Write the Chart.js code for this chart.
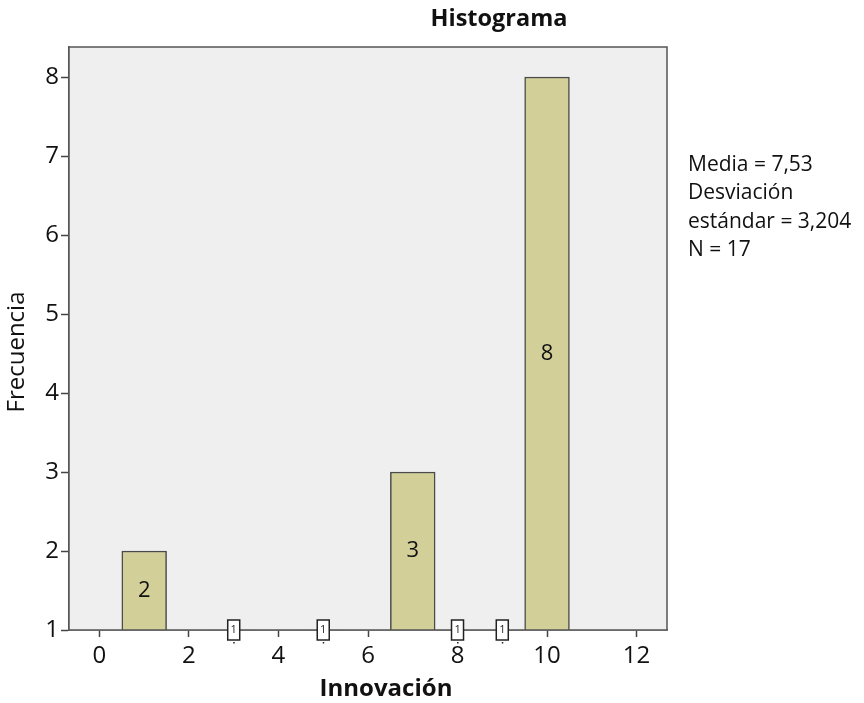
<!DOCTYPE html>
<html lang="es">
<head>
  <meta charset="UTF-8" />
  <title>Histograma - Innovación</title>
  <script src="https://cdn.jsdelivr.net/npm/chart.js"></script>
  <style>
    html, body { margin:0; padding:0; background:#fff; }
    canvas { display:block; }
  </style>
</head>
<body>
  <canvas id="histChart" width="864" height="703"></canvas>

  <script>
    // values
    const innovacion = [1, 3, 5, 7, 8, 9, 10];
    const frecuencia = [2, 1, 1, 3, 1, 1, 8];
    const xTicks = [0, 2, 4, 6, 8, 10, 12];
    const yTicks = [1, 2, 3, 4, 5, 6, 7, 8];
    const statsLines = ["Media = 7,53", "Desviación", "estándar = 3,204", "N = 17"];

    const FONT = "'Open Sans', 'Noto Sans', sans-serif";
    const Y_MIN = 1;

    // plot background, frame, labels, titles, stats box
    const spssLook = {
      id: 'spssLook',
      beforeDatasetsDraw(chart) {
        const { ctx, chartArea: a } = chart;
        ctx.save();
        ctx.fillStyle = '#efefef';
        ctx.fillRect(a.left, a.top, a.right - a.left, a.bottom - a.top);
        ctx.restore();
      },
      afterDatasetsDraw(chart) {
        const { ctx, chartArea: a } = chart;
        const yScale = chart.scales.y;
        const base = yScale.getPixelForValue(Y_MIN);
        ctx.save();
        ctx.strokeStyle = '#555';
        ctx.lineWidth = 1.5;
        ctx.strokeRect(a.left, a.top, a.right - a.left, a.bottom - a.top);

        const meta = chart.getDatasetMeta(0);
        meta.data.forEach((bar, i) => {
          const v = frecuencia[i];
          if (v > Y_MIN) {
            ctx.fillStyle = '#111';
            ctx.font = '22px ' + FONT;
            ctx.textAlign = 'center';
            ctx.textBaseline = 'middle';
            ctx.fillText(String(v), bar.x, (bar.y + base) / 2);
          } else {
            // SPSS puts a tiny label box on zero-height bars
            ctx.fillStyle = '#fff';
            ctx.strokeStyle = '#222';
            ctx.lineWidth = 1.5;
            ctx.fillRect(bar.x - 6, base - 10, 12, 20);
            ctx.strokeRect(bar.x - 6, base - 10, 12, 20);
            ctx.fillStyle = '#222';
            ctx.font = '11px ' + FONT;
            ctx.textAlign = 'center';
            ctx.textBaseline = 'middle';
            ctx.fillText(String(v), bar.x, base);
            ctx.fillRect(bar.x - 0.5, base + 12, 1.5, 1.5);
          }
        });

        ctx.fillStyle = '#111';
        ctx.textAlign = 'center';
        ctx.textBaseline = 'middle';
        ctx.font = 'bold 23.5px ' + FONT;
        ctx.fillText('Histograma', 499, 19);
        ctx.font = 'bold 24px ' + FONT;
        ctx.fillText('Innovación', 386, 689);

        ctx.save();
        ctx.translate(17, 352);
        ctx.rotate(-Math.PI / 2);
        ctx.font = '24px ' + FONT;
        ctx.fillText('Frecuencia', 0, 0);
        ctx.restore();

        ctx.textAlign = 'left';
        ctx.textBaseline = 'alphabetic';
        ctx.font = '21px ' + FONT;
        statsLines.forEach((t, i) => ctx.fillText(t, 688, 171 + i * 28.3));
        ctx.restore();
      }
    };

    new Chart(document.getElementById('histChart'), {
      type: 'bar',
      data: {
        datasets: [{
          data: innovacion.map((x, i) => ({ x: x, y: frecuencia[i] })),
          backgroundColor: '#d3cf98',
          borderColor: '#4a4a4a',
          borderWidth: 1.5,
          borderSkipped: false,
          barPercentage: 1,
          categoryPercentage: 1
        }]
      },
      options: {
        responsive: false,
        animation: false,
        devicePixelRatio: 1,
        layout: { padding: { top: 47, right: 197, left: 0, bottom: 0 } },
        plugins: { legend: { display: false }, tooltip: { enabled: false }, title: { display: false } },
        scales: {
          x: {
            type: 'linear',
            min: -0.68,
            max: 12.68,
            offset: false,
            afterBuildTicks(scale) { scale.ticks = xTicks.map(v => ({ value: v })); },
            afterFit(scale) { scale.height = 73; },
            grid: { offset: false, drawOnChartArea: false, drawTicks: true, tickLength: 7, tickColor: '#444', tickWidth: 1.5 },
            border: { display: true, color: '#555', width: 1.5 },
            ticks: { color: '#111', font: { family: FONT, size: 24 }, padding: 5, maxRotation: 0 }
          },
          y: {
            type: 'linear',
            min: Y_MIN,
            max: 8.38,
            afterBuildTicks(scale) { scale.ticks = yTicks.map(v => ({ value: v })); },
            afterFit(scale) { scale.width = 69; },
            grid: { drawOnChartArea: false, drawTicks: true, tickLength: 8, tickColor: '#444', tickWidth: 1.5 },
            border: { display: true, color: '#555', width: 1.5 },
            ticks: { color: '#111', font: { family: FONT, size: 24 }, padding: 2 }
          }
        }
      },
      plugins: [spssLook]
    });
  </script>
</body>
</html>
